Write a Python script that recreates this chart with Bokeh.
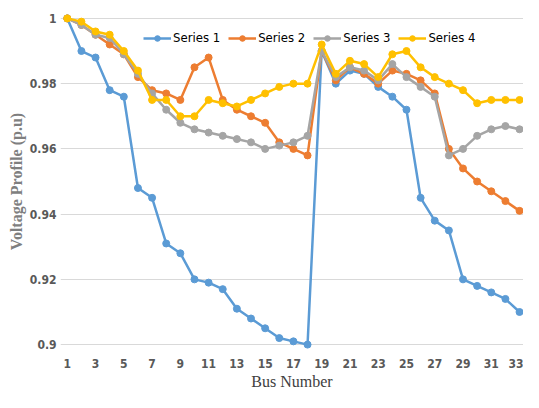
from bokeh.plotting import figure
from bokeh.models import FixedTicker, Range1d, Legend, LegendItem
from bokeh.embed import file_html
from bokeh.resources import INLINE

bus = list(range(1, 34))
series1 = [1.0, 0.990, 0.988, 0.978, 0.976, 0.948, 0.945, 0.931, 0.928, 0.920,
           0.919, 0.917, 0.911, 0.908, 0.905, 0.902, 0.901, 0.900, 0.990, 0.980,
           0.984, 0.983, 0.979, 0.976, 0.972, 0.945, 0.938, 0.935, 0.920, 0.918,
           0.916, 0.914, 0.910]
series2 = [1.0, 0.998, 0.995, 0.992, 0.989, 0.982, 0.978, 0.977, 0.975, 0.985,
           0.988, 0.975, 0.972, 0.970, 0.968, 0.962, 0.960, 0.958, 0.990, 0.981,
           0.985, 0.983, 0.980, 0.984, 0.983, 0.981, 0.977, 0.960, 0.954, 0.950,
           0.947, 0.944, 0.941]
series3 = [1.0, 0.998, 0.995, 0.994, 0.989, 0.983, 0.977, 0.972, 0.968, 0.966,
           0.965, 0.964, 0.963, 0.962, 0.960, 0.961, 0.962, 0.964, 0.990, 0.982,
           0.985, 0.984, 0.981, 0.986, 0.982, 0.979, 0.976, 0.958, 0.960, 0.964,
           0.966, 0.967, 0.966]
series4 = [1.0, 0.999, 0.996, 0.995, 0.990, 0.984, 0.975, 0.975, 0.970, 0.970,
           0.975, 0.974, 0.973, 0.975, 0.977, 0.979, 0.980, 0.980, 0.992, 0.983,
           0.987, 0.986, 0.982, 0.989, 0.990, 0.985, 0.982, 0.980, 0.978, 0.974,
           0.975, 0.975, 0.975]
names = ["Series 1", "Series 2", "Series 3", "Series 4"]
colors = ["#5B9BD5", "#ED7D31", "#A5A5A5", "#FFC000"]
y_ticks = [0.9, 0.92, 0.94, 0.96, 0.98, 1.0]
y_tick_labels = ["0.9", "0.92", "0.94", "0.96", "0.98", "1"]
x_ticks = list(range(1, 34, 2))

p = figure(width=523, height=392, output_backend="svg", toolbar_location=None,
           x_range=Range1d(0.52, 33.28), y_range=Range1d(0.8985, 1.0015),
           min_border_left=60, min_border_right=0, min_border_top=13, min_border_bottom=30)
p.outline_line_color = None
p.background_fill_color = "white"
p.border_fill_color = "white"

tick_font = "'Liberation Sans Narrow', 'DejaVu Sans Condensed', sans-serif"
for ax in (p.xaxis, p.yaxis):
    ax.axis_line_color = None
    ax.major_tick_line_color = None
    ax.minor_tick_line_color = None
    ax.major_tick_out = 0
    ax.major_tick_in = 0
    ax.major_label_text_font = tick_font
    ax.major_label_text_font_size = "12px"
    ax.major_label_text_font_style = "bold"
    ax.major_label_text_color = "#595959"

p.yaxis.ticker = FixedTicker(ticks=y_ticks)
p.yaxis.major_label_overrides = {t: l for t, l in zip(y_ticks, y_tick_labels)}
p.yaxis.major_label_standoff = 4
p.yaxis.axis_label = "Voltage Profile (p.u)"
p.yaxis.axis_label_text_font = "Liberation Serif"
p.yaxis.axis_label_text_font_size = "16px"
p.yaxis.axis_label_text_font_style = "bold"
p.yaxis.axis_label_text_color = "#7F7F7F"
p.yaxis.axis_label_standoff = 2

p.xaxis.ticker = FixedTicker(ticks=x_ticks)
p.xaxis.major_label_standoff = 9
p.xaxis.axis_label = "Bus Number"
p.xaxis.axis_label_text_font = "Liberation Serif"
p.xaxis.axis_label_text_font_size = "16px"
p.xaxis.axis_label_text_font_style = "normal"
p.xaxis.axis_label_text_color = "#404040"
p.xaxis.axis_label_standoff = 2

p.xgrid.grid_line_color = None
p.ygrid.ticker = FixedTicker(ticks=y_ticks)
p.ygrid.grid_line_color = "#D9D9D9"
p.ygrid.grid_line_width = 1

items = []
for name, ys, c in zip(names, [series1, series2, series3, series4], colors):
    l = p.line(bus, ys, line_color=c, line_width=2.5)
    s = p.scatter(bus, ys, size=7, fill_color=c, line_color=c)
    items.append(LegendItem(label=name, renderers=[l, s]))

legend = Legend(items=items, orientation="horizontal", location=(83, 304),
                background_fill_alpha=0, border_line_color=None,
                label_text_font=tick_font, label_text_font_size="13px",
                label_text_color="#000000", glyph_width=28, glyph_height=14,
                label_standoff=2, spacing=8, padding=2, margin=0)
p.add_layout(legend, "center")

open("out.html", "w").write(file_html(p, INLINE))
